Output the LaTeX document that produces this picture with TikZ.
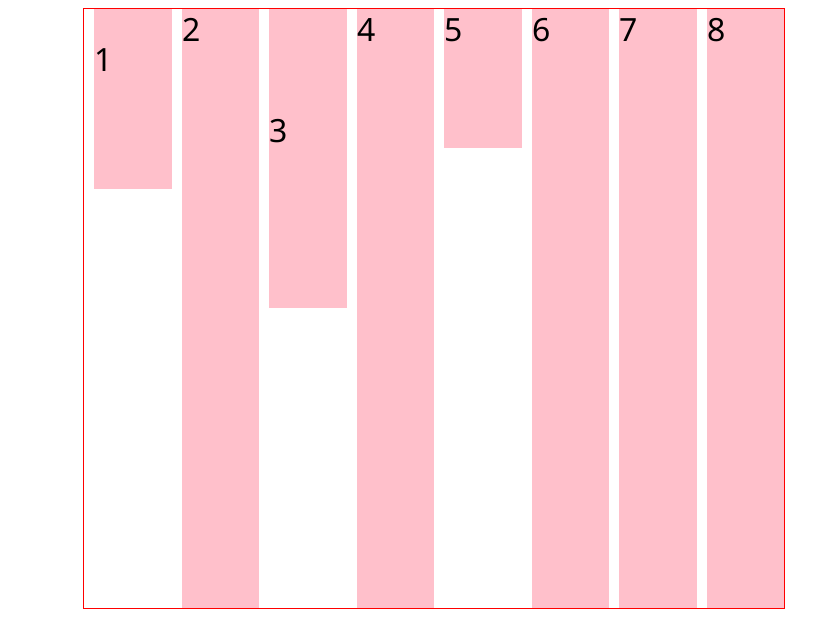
\documentclass[tikz,border=0pt]{standalone}
\usepackage{fontspec}
\setmainfont{Noto Sans}
\definecolor{barpink}{RGB}{255,192,203}
\begin{document}
\begin{tikzpicture}[x=1pt,y=-1pt,
  bar/.style={fill=barpink,draw=none},
  lbl/.style={anchor=base west,inner sep=0pt,font=\fontsize{32}{36}\selectfont}]
\useasboundingbox (0,0) rectangle (831,625);
\fill[barpink] (94,9) rectangle (172,189);
\fill[barpink] (182,9) rectangle (259,608);
\fill[barpink] (269,9) rectangle (347,308);
\fill[barpink] (357,9) rectangle (434,608);
\fill[barpink] (444,9) rectangle (522,148);
\fill[barpink] (532,9) rectangle (609,608);
\fill[barpink] (619,9) rectangle (697,608);
\fill[barpink] (707,9) rectangle (784,608);
\node[lbl] (l1) at (94,71) {1};
\node[lbl] (l2) at (182,41) {2};
\node[lbl] (l3) at (269,142) {3};
\node[lbl] (l4) at (357,41) {4};
\node[lbl] (l5) at (444,41) {5};
\node[lbl] (l6) at (532,41) {6};
\node[lbl] (l7) at (619,41) {7};
\node[lbl] (l8) at (707,41) {8};
\draw[red,line width=1pt] (83.5,8.5) rectangle (784,608.5);
\end{tikzpicture}
\end{document}
